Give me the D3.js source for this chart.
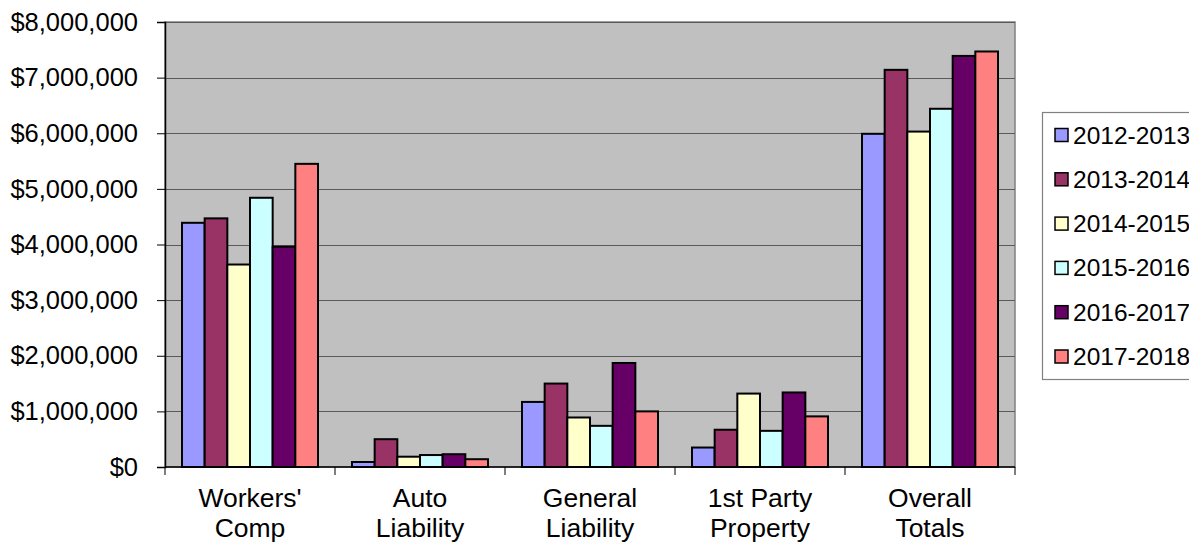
<!DOCTYPE html>
<html>
<head>
<meta charset="utf-8">
<script src="https://cdn.jsdelivr.net/npm/d3@7"></script>
<style>
  html, body { margin: 0; padding: 0; background: #fff; }
  svg { display: block; font-family: "Liberation Sans", Arial, sans-serif; }
</style>
</head>
<body>
<svg id="chart" width="1189" height="544"></svg>
<script>
// Claim costs by category and fiscal year
const categories = [["Workers'", "Comp"], ["Auto", "Liability"], ["General", "Liability"], ["1st Party", "Property"], ["Overall", "Totals"]];
const seriesNames = ["2012-2013", "2013-2014", "2014-2015", "2015-2016", "2016-2017", "2017-2018"];
const fy2012 = [4390000,   90000, 1170000,  350000, 5990000];
const fy2013 = [4470000,  500000, 1500000,  670000, 7140000];
const fy2014 = [3640000,  185000,  890000, 1320000, 6030000];
const fy2015 = [4840000,  215000,  740000,  650000, 6440000];
const fy2016 = [3960000,  230000, 1870000, 1340000, 7390000];
const fy2017 = [5450000,  140000, 1000000,  910000, 7470000];
const seriesValues = [fy2012, fy2013, fy2014, fy2015, fy2016, fy2017];
const seriesColors = ["#9999FF", "#993366", "#FFFFCC", "#CCFFFF", "#660066", "#FF8080"];
const yTicks = [0, 1000000, 2000000, 3000000, 4000000, 5000000, 6000000, 7000000, 8000000];

const svg = d3.select("#chart");
const plot = { left: 165, top: 22, right: 1015, bottom: 467 };

const x0 = d3.scaleBand()
  .domain(d3.range(categories.length))
  .range([plot.left, plot.right])
  .paddingInner(0.2)
  .paddingOuter(0.1);
const x1 = d3.scaleBand()
  .domain(d3.range(seriesNames.length))
  .range([0, x0.bandwidth()]);
const y = d3.scaleLinear().domain([0, 8000000]).range([plot.bottom, plot.top]);

// plot background
svg.append("rect")
  .attr("x", plot.left).attr("y", plot.top)
  .attr("width", plot.right - plot.left).attr("height", plot.bottom - plot.top)
  .attr("fill", "#C0C0C0").attr("stroke", "#808080").attr("stroke-width", 1.5);

// horizontal gridlines
svg.append("g").selectAll("line").data(yTicks.slice(1)).join("line")
  .attr("x1", plot.left).attr("x2", plot.right)
  .attr("y1", d => Math.round(y(d)) + 0.5).attr("y2", d => Math.round(y(d)) + 0.5)
  .attr("stroke", "#5a5a5a").attr("stroke-width", 1.2);

// bars
const groups = svg.append("g").selectAll("g").data(categories).join("g")
  .attr("transform", (d, i) => `translate(${x0(i)},0)`);
groups.selectAll("rect")
  .data((d, ci) => seriesValues.map((vals, si) => ({ si, v: vals[ci] })))
  .join("rect")
  .attr("x", d => x1(d.si))
  .attr("width", x1.bandwidth())
  .attr("y", d => y(d.v))
  .attr("height", d => y(0) - y(d.v))
  .attr("fill", d => seriesColors[d.si])
  .attr("stroke", "#000").attr("stroke-width", 2);

// y axis
const yAxis = d3.axisLeft(y).tickValues(yTicks).tickSize(8).tickPadding(19)
  .tickFormat(d => "$" + d3.format(",")(d));
const gy = svg.append("g").attr("transform", `translate(${plot.left},0)`).call(yAxis);
gy.select(".domain").attr("stroke", "#000").attr("stroke-width", 1.5);
gy.selectAll(".tick line").attr("stroke", "#000");
gy.selectAll(".tick text").attr("font-size", 25.5).attr("fill", "#000")
  .attr("font-family", "Liberation Sans, Arial, sans-serif");

// x axis baseline and group separators
const boundaries = d3.range(categories.length + 1).map(i => plot.left + i * x0.step());
svg.append("line")
  .attr("x1", plot.left).attr("x2", plot.right)
  .attr("y1", plot.bottom).attr("y2", plot.bottom)
  .attr("stroke", "#000").attr("stroke-width", 1.5);
svg.append("g").selectAll("line").data(boundaries).join("line")
  .attr("x1", d => d).attr("x2", d => d)
  .attr("y1", plot.bottom).attr("y2", plot.bottom + 8)
  .attr("stroke", "#000").attr("stroke-width", 1);

// category labels
const labels = svg.append("g").selectAll("text").data(categories).join("text")
  .attr("x", (d, i) => x0(i) + x0.bandwidth() / 2)
  .attr("y", 507)
  .attr("text-anchor", "middle")
  .attr("font-size", 26.5)
  .attr("fill", "#000");
labels.selectAll("tspan").data(d => d).join("tspan")
  .attr("x", function () { return this.parentNode.getAttribute("x"); })
  .attr("dy", (d, i) => i === 0 ? 0 : 30)
  .text(d => d);

// legend
const legend = svg.append("g");
legend.append("rect")
  .attr("x", 1042.5).attr("y", 112.5).attr("width", 170).attr("height", 267)
  .attr("fill", "#fff").attr("stroke", "#808080").attr("stroke-width", 1.2);
const items = legend.selectAll("g.item").data(seriesNames).join("g")
  .attr("class", "item")
  .attr("transform", (d, i) => `translate(0,${135 + i * 44.3})`);
items.append("rect")
  .attr("x", 1055).attr("y", -6.5).attr("width", 13).attr("height", 13)
  .attr("fill", (d, i) => seriesColors[i]).attr("stroke", "#000").attr("stroke-width", 1.5);
items.append("text")
  .attr("x", 1073).attr("y", 0).attr("dy", "0.35em")
  .attr("font-size", 24.5).attr("fill", "#000")
  .text(d => d);
</script>
</body>
</html>
